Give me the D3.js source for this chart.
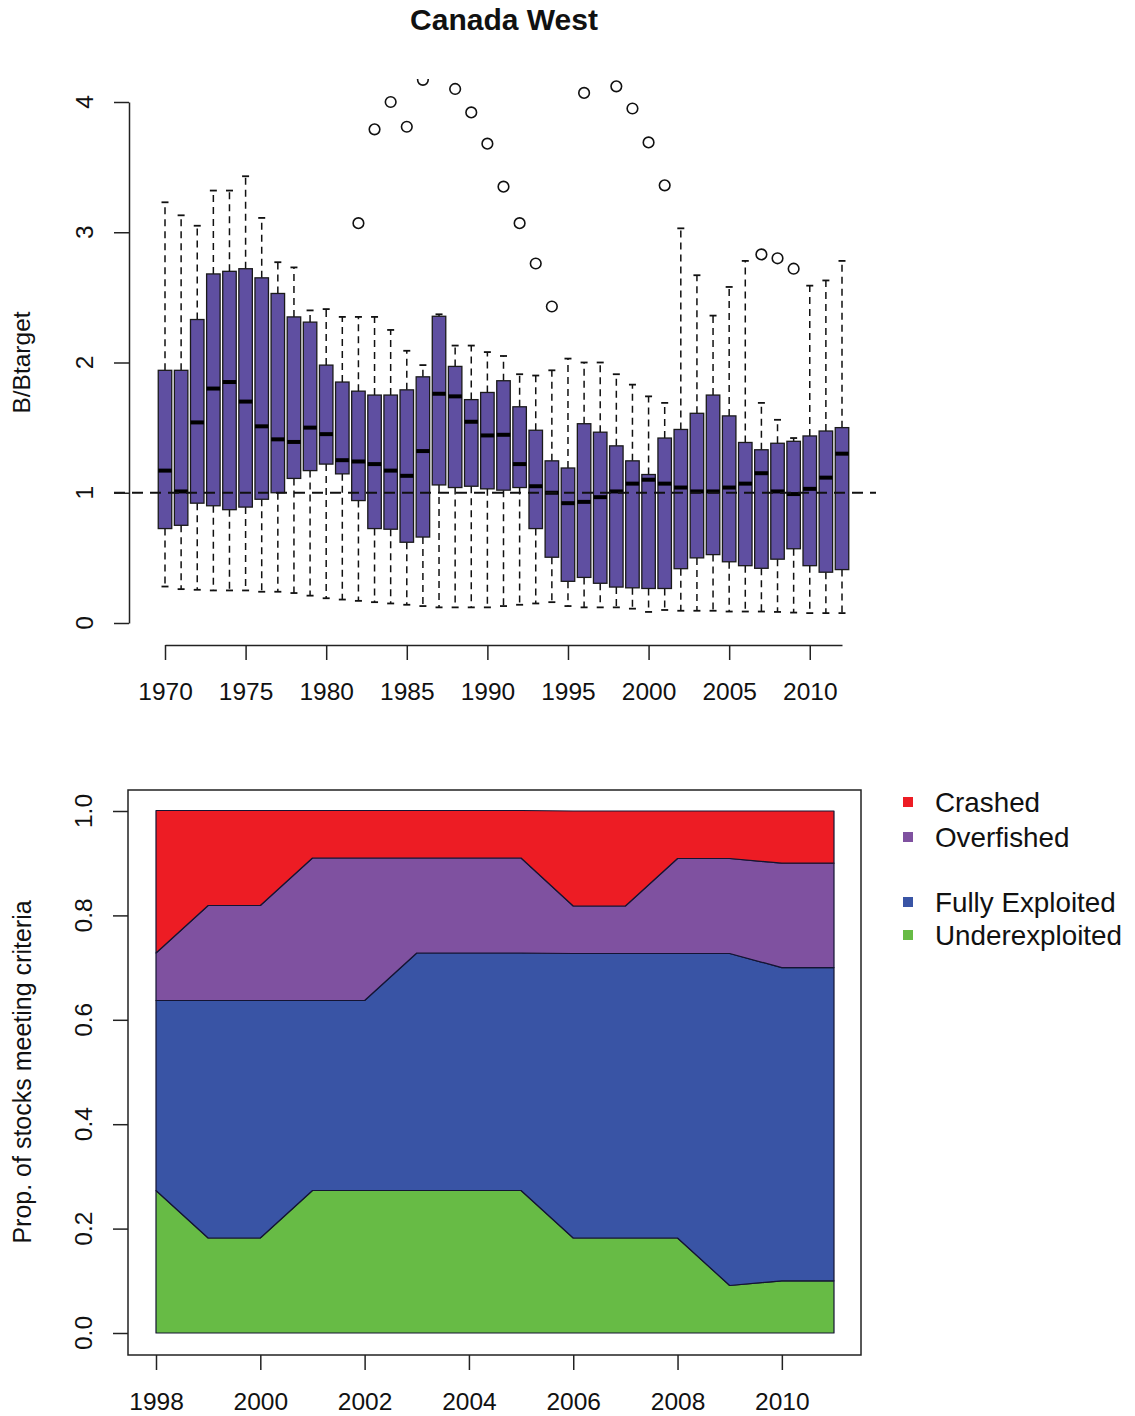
<!DOCTYPE html>
<html><head><meta charset="utf-8">
<script src="https://cdnjs.cloudflare.com/ajax/libs/d3/7.8.5/d3.min.js"></script>
<style>
body{margin:0;background:#fff}
svg{display:block}
text{font-family:"Liberation Sans",Arial,Helvetica,sans-serif;fill:#111}
</style>
</head><body>
<svg id="c" width="1135" height="1416"></svg>
<script>
// ---------- Top panel data (B/Btarget boxplots) ----------
const years = [1970,1971,1972,1973,1974,1975,1976,1977,1978,1979,1980,1981,1982,1983,1984,1985,1986,1987,1988,1989,1990,1991,1992,1993,1994,1995,1996,1997,1998,1999,2000,2001,2002,2003,2004,2005,2006,2007,2008,2009,2010,2011,2012];
const lowerWhisker = [0.28,0.26,0.255,0.25,0.25,0.25,0.24,0.24,0.23,0.21,0.19,0.18,0.17,0.16,0.15,0.14,0.13,0.12,0.12,0.12,0.12,0.13,0.14,0.15,0.16,0.13,0.12,0.12,0.12,0.11,0.085,0.10,0.094,0.094,0.094,0.088,0.088,0.088,0.085,0.08,0.076,0.076,0.076];
const q1 = [0.725,0.75,0.92,0.90,0.87,0.89,0.95,1.00,1.11,1.17,1.22,1.145,0.94,0.725,0.72,0.62,0.66,1.06,1.04,1.05,1.03,1.02,1.04,0.725,0.505,0.32,0.35,0.305,0.276,0.27,0.265,0.265,0.417,0.50,0.525,0.47,0.44,0.42,0.49,0.57,0.44,0.39,0.41];
const median = [1.17,1.01,1.54,1.80,1.85,1.70,1.51,1.41,1.39,1.50,1.45,1.25,1.24,1.22,1.17,1.13,1.32,1.76,1.74,1.545,1.44,1.445,1.22,1.05,1.00,0.92,0.93,0.966,1.01,1.07,1.10,1.07,1.04,1.01,1.01,1.04,1.07,1.15,1.01,0.99,1.03,1.116,1.30];
const q3 = [1.94,1.94,2.33,2.68,2.70,2.72,2.65,2.53,2.35,2.31,1.98,1.85,1.78,1.75,1.75,1.79,1.89,2.355,1.97,1.715,1.77,1.86,1.66,1.48,1.245,1.19,1.53,1.465,1.36,1.245,1.14,1.42,1.486,1.61,1.75,1.59,1.386,1.33,1.38,1.395,1.436,1.474,1.50];
const upperWhisker = [3.23,3.13,3.05,3.32,3.32,3.43,3.11,2.77,2.73,2.40,2.41,2.35,2.35,2.35,2.25,2.09,1.98,2.37,2.13,2.13,2.08,2.05,1.91,1.90,1.94,2.03,2.00,2.00,1.91,1.83,1.74,1.69,3.03,2.67,2.36,2.58,2.78,1.69,1.56,1.42,2.59,2.63,2.78];
const outlierYears = [1982,1983,1984,1985,1986,1988,1989,1990,1991,1992,1993,1994,1996,1998,1999,2000,2001,2007,2008,2009];
const outlierValues = [3.07,3.79,4.00,3.81,4.17,4.10,3.92,3.68,3.35,3.07,2.76,2.43,4.07,4.12,3.95,3.69,3.36,2.83,2.80,2.72];
const topYTicks = [0,1,2,3,4];
const topXTicks = [1970,1975,1980,1985,1990,1995,2000,2005,2010];

// ---------- Bottom panel data (stock status proportions) ----------
const statusYears = [1998,1999,2000,2001,2002,2003,2004,2005,2006,2007,2008,2009,2010,2011];
const underexploited = [0.273,0.182,0.182,0.273,0.273,0.273,0.273,0.273,0.182,0.182,0.182,0.091,0.10,0.10];
const fullyExploited = [0.364,0.455,0.455,0.364,0.364,0.455,0.455,0.455,0.545,0.545,0.545,0.636,0.60,0.60];
const overfished     = [0.091,0.182,0.182,0.273,0.273,0.182,0.182,0.182,0.091,0.091,0.182,0.182,0.20,0.20];
const crashed        = [0.273,0.182,0.182,0.091,0.091,0.091,0.091,0.091,0.182,0.182,0.091,0.091,0.10,0.10];
const statusNames = ["Crashed","Overfished","Fully Exploited","Underexploited"];
const statusColors = ["#ED1C24","#7F51A0","#3954A5","#67BB45"];
const bottomYTicks = [0,0.2,0.4,0.6,0.8,1.0];
const bottomXTicks = [1998,2000,2002,2004,2006,2008,2010];

const svg = d3.select("#c");
const FONT = 24.5;

// Title
svg.append("text").attr("x",504).attr("y",30).attr("text-anchor","middle")
  .style("font-size","30px").style("font-weight","bold").text("Canada West");

// ================= TOP PANEL =================
const xT = d3.scaleLinear().domain([1970,2012]).range([165,842]);
const yT = d3.scaleLinear().domain([0,4]).range([623,102]);
const boxW = 13.5, capW = 7;

svg.append("clipPath").attr("id","clipTop").append("rect")
  .attr("x",100).attr("y",79).attr("width",800).attr("height",575);
const gT = svg.append("g").attr("clip-path","url(#clipTop)");

// whiskers
const wh = gT.append("g").attr("stroke","#111").attr("stroke-width",1.5);
years.forEach((yr,i)=>{
  const cx = xT(yr);
  wh.append("line").attr("x1",cx).attr("x2",cx).attr("y1",yT(q3[i])).attr("y2",yT(upperWhisker[i])).attr("stroke-dasharray","7,5");
  wh.append("line").attr("x1",cx).attr("x2",cx).attr("y1",yT(q1[i])).attr("y2",yT(lowerWhisker[i])).attr("stroke-dasharray","7,5");
  wh.append("line").attr("x1",cx-capW/2).attr("x2",cx+capW/2).attr("y1",yT(upperWhisker[i])).attr("y2",yT(upperWhisker[i])).attr("stroke-width",1.8);
  wh.append("line").attr("x1",cx-capW/2).attr("x2",cx+capW/2).attr("y1",yT(lowerWhisker[i])).attr("y2",yT(lowerWhisker[i])).attr("stroke-width",1.8);
});
// boxes
gT.append("g").selectAll("rect").data(years).join("rect")
  .attr("x",d=>xT(d)-boxW/2).attr("width",boxW)
  .attr("y",(d,i)=>yT(q3[i])).attr("height",(d,i)=>yT(q1[i])-yT(q3[i]))
  .attr("fill","#5F4FA1").attr("stroke","#1a1a1a").attr("stroke-width",1.3);
// medians
gT.append("g").selectAll("line").data(years).join("line")
  .attr("x1",d=>xT(d)-boxW/2).attr("x2",d=>xT(d)+boxW/2)
  .attr("y1",(d,i)=>yT(median[i])).attr("y2",(d,i)=>yT(median[i]))
  .attr("stroke","#000").attr("stroke-width",4);
// outliers
gT.append("g").selectAll("circle").data(outlierYears).join("circle")
  .attr("cx",d=>xT(d)).attr("cy",(d,i)=>yT(outlierValues[i])).attr("r",5.3)
  .attr("fill","none").attr("stroke","#111").attr("stroke-width",1.6);
// reference line at 1
svg.append("line").attr("x1",114).attr("x2",876).attr("y1",yT(1)).attr("y2",yT(1))
  .attr("stroke","#111").attr("stroke-width",1.8).attr("stroke-dasharray","11,7");

// top y axis
const yAxT = svg.append("g").attr("transform","translate(129,0)")
  .call(d3.axisLeft(yT).tickValues(topYTicks).tickSize(15).tickSizeOuter(0).tickFormat(""));
yAxT.selectAll("path,line").attr("stroke","#222").attr("stroke-width",1.5);
topYTicks.forEach(v=>{
  svg.append("text").attr("transform",`translate(93,${yT(v)}) rotate(-90)`)
    .attr("text-anchor","middle").style("font-size",FONT+"px").text(v);
});
svg.append("text").attr("transform",`translate(30,${yT(2)}) rotate(-90)`)
  .attr("text-anchor","middle").style("font-size",FONT+"px").text("B/Btarget");

// top x axis
const xAxT = svg.append("g").attr("transform","translate(0,645)")
  .call(d3.axisBottom(xT).tickValues(topXTicks).tickSize(15).tickSizeOuter(0).tickPadding(23).tickFormat(d3.format("d")));
xAxT.selectAll("path,line").attr("stroke","#222").attr("stroke-width",1.5);
xAxT.selectAll("text").style("font-size",FONT+"px").attr("fill","#111")
  .style("font-family",'"Liberation Sans",Arial,sans-serif');

// ================= BOTTOM PANEL =================
const xB = d3.scaleLinear().domain([1998,2011]).range([156,834]);
const yB = d3.scaleLinear().domain([0,1]).range([1333,811]);

// stacked layers (bottom -> top)
const layers = [underexploited, fullyExploited, overfished, crashed];
const layerColors = [statusColors[3], statusColors[2], statusColors[1], statusColors[0]];
let base = statusYears.map(()=>0);
layers.forEach((vals,k)=>{
  const lo = base.slice();
  const hi = base.map((b,i)=>b+vals[i]);
  const area = d3.area().x((d,i)=>xB(statusYears[i])).y0((d,i)=>yB(lo[i])).y1((d,i)=>yB(hi[i]));
  svg.append("path").datum(statusYears).attr("d",area)
    .attr("fill",layerColors[k]).attr("stroke","#141432").attr("stroke-width",1.2).attr("stroke-linejoin","round");
  base = hi;
});

// frame
svg.append("rect").attr("x",128).attr("y",790).attr("width",733).attr("height",565)
  .attr("fill","none").attr("stroke","#222").attr("stroke-width",1.5);

// bottom y axis
const yAxB = svg.append("g").attr("transform","translate(128,0)")
  .call(d3.axisLeft(yB).tickValues(bottomYTicks).tickSize(15).tickSizeOuter(0).tickFormat(""));
yAxB.select("path").remove();
yAxB.selectAll("line").attr("stroke","#222").attr("stroke-width",1.5);
bottomYTicks.forEach(v=>{
  svg.append("text").attr("transform",`translate(92,${yB(v)}) rotate(-90)`)
    .attr("text-anchor","middle").style("font-size",FONT+"px").text(d3.format(".1f")(v));
});
svg.append("text").attr("transform",`translate(31,${yB(0.5)}) rotate(-90)`)
  .attr("text-anchor","middle").style("font-size","25px").text("Prop. of stocks meeting criteria");

// bottom x axis
const xAxB = svg.append("g").attr("transform","translate(0,1355)")
  .call(d3.axisBottom(xB).tickValues(bottomXTicks).tickSize(15).tickSizeOuter(0).tickPadding(23).tickFormat(d3.format("d")));
xAxB.select("path").remove();
xAxB.selectAll("line").attr("stroke","#222").attr("stroke-width",1.5);
xAxB.selectAll("text").style("font-size",FONT+"px").attr("fill","#111")
  .style("font-family",'"Liberation Sans",Arial,sans-serif');

// legend
const legendY = [802, 837, 902, 935];
statusNames.forEach((n,i)=>{
  svg.append("rect").attr("x",903).attr("y",legendY[i]-5).attr("width",10).attr("height",10)
    .attr("fill",statusColors[i]);
  svg.append("text").attr("x",935).attr("y",legendY[i]+10).style("font-size","27.8px").text(n);
});
</script>
</body></html>
